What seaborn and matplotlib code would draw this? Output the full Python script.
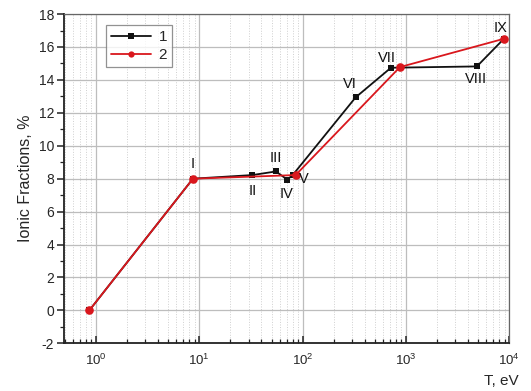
import numpy as np
import pandas as pd
import matplotlib
matplotlib.use("Agg")
import matplotlib.pyplot as plt
import matplotlib.ticker as mticker
import seaborn as sns

# Series 1 (black squares) and series 2 (red circles)
t1 = [0.862, 8.68, 32.6, 55.2, 71.1, 80.6, 326.0, 716.0, 4864.0, 8880.0]
f1 = [0.0, 8.0, 8.22, 8.44, 7.94, 8.24, 12.94, 14.74, 14.82, 16.5]
t2 = [0.862, 8.68, 85.6, 875.0, 8880.0]
f2 = [0.0, 8.0, 8.22, 14.78, 16.5]
series_names = ["1", "2"]
point_labels = ["I", "II", "III", "IV", "V", "VI", "VII", "VIII", "IX"]
label_offsets = [(0, 15), (0, -16), (0, 13), (-1, -14), (11, -4),
                 (-6, 13), (-4, 10), (-1, -13), (-3, 11)]

df = pd.DataFrame({
    "T": t1 + t2,
    "F": f1 + f2,
    "series": [series_names[0]] * len(t1) + [series_names[1]] * len(t2),
})

sns.set_style("white")
plt.rcParams["font.family"] = ["Liberation Sans", "DejaVu Sans"]
plt.rcParams["axes.unicode_minus"] = False

fig = plt.figure(figsize=(5.31, 3.91), dpi=100)
ax = fig.add_axes([0.1205, 0.122, 0.8385, 0.842])

sns.lineplot(data=df, x="T", y="F", hue="series", style="series",
             palette={"1": "#111111", "2": "#d9171d"},
             markers={"1": "s", "2": "o"}, dashes=False,
             markersize=5.0, markeredgewidth=0, linewidth=1.3,
             sort=False, ax=ax, zorder=3)
# slightly larger red circles so they cover the shared black points
ax.lines[1].set_markersize(6.2)

ax.set_xscale("log")
ax.set_xlim(0.49, 1.0e4)
ax.set_ylim(-2, 18)
ax.yaxis.set_major_locator(mticker.MultipleLocator(2))
ax.yaxis.set_minor_locator(mticker.MultipleLocator(1))
ax.xaxis.set_major_locator(mticker.LogLocator(base=10, numticks=10))
ax.xaxis.set_minor_locator(mticker.LogLocator(base=10, subs=np.arange(2, 10), numticks=20))
ax.xaxis.set_minor_formatter(mticker.NullFormatter())

ax.grid(which="major", axis="both", color="#bdbdbd", linewidth=0.9, linestyle="-", zorder=0)
ax.grid(which="minor", axis="x", color="#cfcfcf", linewidth=0.7, linestyle=":", zorder=0)
ax.set_axisbelow(True)

for side in ("left", "bottom"):
    ax.spines[side].set_color("#222222")
    ax.spines[side].set_linewidth(1.3)
for side in ("top", "right"):
    ax.spines[side].set_color("#666666")
    ax.spines[side].set_linewidth(0.9)

ax.tick_params(axis="x", which="major", direction="in", length=5, width=1.1,
               labelsize=9.5, pad=7, color="#222222")
ax.tick_params(axis="x", which="minor", direction="in", length=3, width=0.9, color="#222222")
ax.tick_params(axis="y", which="major", direction="out", length=5, width=1.1,
               labelsize=10, pad=2, color="#222222")
ax.tick_params(axis="y", which="minor", direction="out", length=3, width=0.9, color="#222222")
ax.tick_params(left=True, bottom=True, top=False, right=False, which="both")

ax.set_xlabel("")
ax.set_ylabel("Ionic Fractions, %", fontsize=11.5, labelpad=4)
fig.text(0.977, 0.008, "T, eV", ha="right", va="bottom", fontsize=11)

# Roman numeral labels on the series 1 points
for name, x, y, (dx, dy) in zip(point_labels, t1[1:], f1[1:], label_offsets):
    ax.annotate(name, (x, y), xytext=(dx, dy), textcoords="offset pixels",
                ha="center", va="center", fontsize=10.5, color="#111111")

leg = ax.legend(title=None, loc="upper left", bbox_to_anchor=(0.094, 0.967),
                borderaxespad=0, frameon=True, fancybox=False, fontsize=11,
                handlelength=2.6, handletextpad=0.5, borderpad=0.35,
                labelspacing=0.25)
leg.get_frame().set_edgecolor("#777777")
leg.get_frame().set_linewidth(0.9)
for h in leg.legend_handles:
    h.set_markersize(4.5)

fig.savefig("out.png", dpi=100)
